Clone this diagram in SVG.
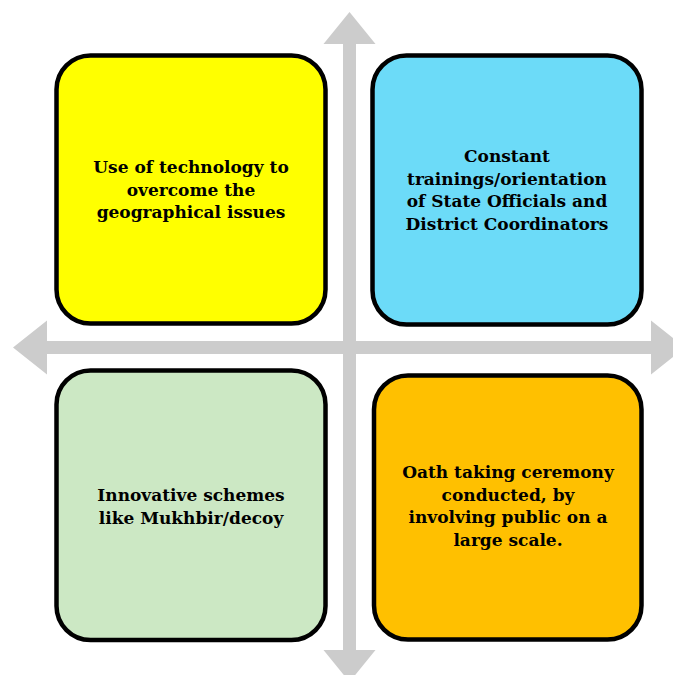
<svg xmlns="http://www.w3.org/2000/svg" width="673" height="675" viewBox="0 0 673 675">
<style>
.box{stroke:#000;stroke-width:4.5}
.arrow{fill:#CCCCCC}
.lbl{font-family:"DejaVu Serif","Liberation Serif",serif;font-weight:bold;font-size:17px;fill:#000;text-anchor:middle}
</style>
<rect width="673" height="675" fill="#fff"/>
<g id="connectors">
<polygon class="arrow" points="349.5,12 375.5,44 356,44 356,650 375.5,650 349.5,682 323.5,650 343,650 343,44 323.5,44"/>
<polygon class="arrow" points="13,347.5 47,320.5 47,341 651,341 651,320.5 685,347.5 651,374.5 651,354 47,354 47,374.5"/>
</g>
<g id="node-tl">
<rect class="box" x="56.5" y="55.5" width="269" height="268" rx="34" fill="#FFFF00"/>
<text class="lbl" x="191" y="173">Use of technology to</text>
<text class="lbl" x="191" y="195.5">overcome the</text>
<text class="lbl" x="191" y="218">geographical issues</text>
</g>
<g id="node-tr">
<rect class="box" x="372.5" y="55.5" width="269" height="269" rx="34" fill="#6CDBF8"/>
<text class="lbl" x="507" y="162">Constant</text>
<text class="lbl" x="507" y="184.5">trainings/orientation</text>
<text class="lbl" x="507" y="207">of State Officials and</text>
<text class="lbl" x="507" y="229.5">District Coordinators</text>
</g>
<g id="node-bl">
<rect class="box" x="56.5" y="370.5" width="269" height="269.5" rx="34" fill="#CCE8C4"/>
<text class="lbl" x="191" y="501">Innovative schemes</text>
<text class="lbl" x="191" y="523.5">like Mukhbir/decoy</text>
</g>
<g id="node-br">
<rect class="box" x="374" y="375.5" width="267.5" height="264" rx="34" fill="#FFC000"/>
<text class="lbl" x="508" y="478">Oath taking ceremony</text>
<text class="lbl" x="508" y="500.5">conducted, by</text>
<text class="lbl" x="508" y="523">involving public on a</text>
<text class="lbl" x="508" y="545.5">large scale.</text>
</g>
</svg>
